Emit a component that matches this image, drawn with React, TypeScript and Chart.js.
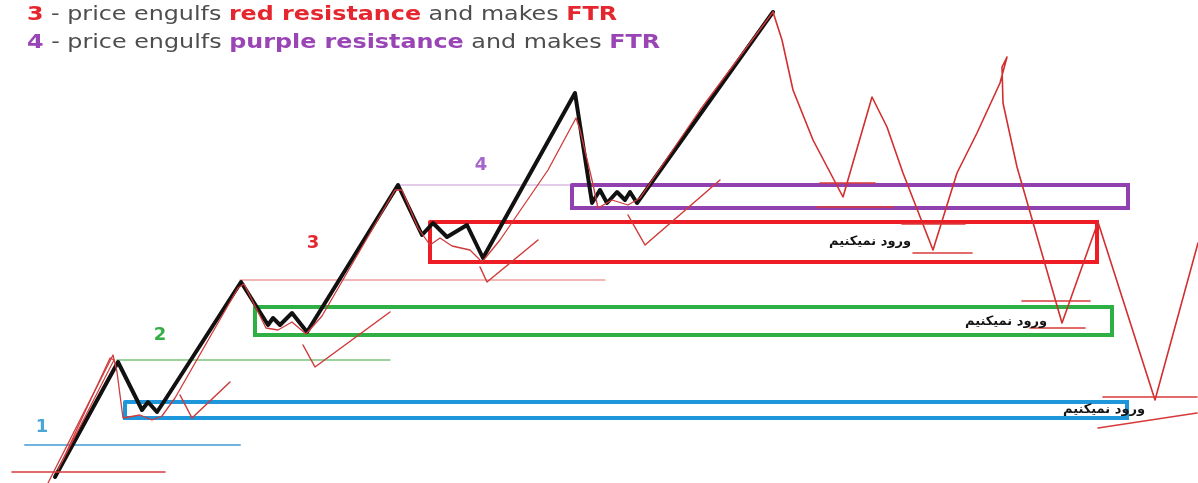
import React, { useEffect, useRef } from "react";
import { Chart, registerables } from "chart.js";

Chart.register(...registerables);

type P = [number, number];

// Horizontal axis: time units (0..1198). Vertical axis: depth below top (0..483, reversed).
const blackPath: P[] = [
  [55, 477], [118, 362], [137, 400], [142, 410], [148, 402], [157, 412], [165, 400],
  [241, 282], [263, 317], [268, 325], [273, 318], [280, 325], [292, 313], [307, 332],
  [398, 185], [422, 235], [433, 223], [447, 237], [467, 225], [483, 258],
  [575, 93], [592, 203], [600, 190], [607, 203], [617, 192], [625, 200], [630, 192], [637, 203],
  [773, 12],
];

const redTrace: P[] = [
  [48, 483], [113, 355], [117, 372], [123, 418], [140, 415], [152, 420], [162, 416],
  [175, 398], [238, 288], [244, 284], [258, 312], [266, 328], [278, 330], [292, 322], [306, 334],
  [322, 316], [395, 190], [402, 190], [418, 228], [430, 245], [440, 238], [452, 246], [470, 250], [482, 262],
  [500, 240], [548, 170], [576, 118], [580, 130], [592, 180], [598, 208], [612, 200], [628, 205], [640, 198],
  [700, 110], [773, 12],
];

const redContinuation: P[] = [
  [773, 12], [782, 40], [793, 90], [813, 140], [843, 197], [872, 97], [887, 127], [903, 173],
  [933, 250], [957, 173], [977, 133], [1000, 83], [1007, 57], [1002, 67], [1003, 103], [1017, 167],
  [1062, 323], [1098, 222], [1155, 400], [1198, 243],
];

const redSecondTrace: P[] = [
  [58, 470], [110, 358], [114, 360], [62, 462],
];

const checkMarks: P[][] = [
  [[180, 395], [192, 418], [230, 382]],
  [[303, 345], [315, 367], [390, 312]],
  [[480, 267], [487, 282], [538, 240]],
  [[628, 215], [645, 245], [720, 180]],
];

const redLevels: P[][] = [
  [[12, 472], [165, 472]],
  [[820, 183], [875, 183]],
  [[817, 207], [893, 207]],
  [[902, 224], [965, 224]],
  [[913, 253], [972, 253]],
  [[1022, 301], [1090, 301]],
  [[1030, 328], [1085, 328]],
  [[1103, 397], [1197, 397]],
  [[1098, 428], [1197, 413]],
];

const blueLevel: P[] = [[25, 445], [240, 445]];
const greenLevel: P[] = [[117, 360], [390, 360]];
const redLevel: P[] = [[240, 280], [605, 280]];
const purpleLevel: P[] = [[398, 185], [575, 185]];

// Zones: [left, right, top, bottom]
const blueZone = [125, 1127, 402, 418];
const greenZone = [255, 1112, 307, 335];
const redZone = [430, 1097, 222, 262];
const purpleZone = [572, 1128, 185, 208];

const stepLabels = ["1", "2", "3", "4"];
const stepAnchors: P[] = [[42, 427], [160, 335], [313, 243], [481, 165]];
const noEntryText = "ورود نمیکنیم";
const noEntryAnchors: P[] = [[870, 242], [1006, 322], [1104, 410]];

const RED = "#e5262e";
const GRAY = "#4d4d4d";
const PURPLE = "#9a45b6";

const titleLines = [
  [
    { t: "3", c: RED, b: true },
    { t: " - price engulfs ", c: GRAY, b: false },
    { t: "red resistance", c: RED, b: true },
    { t: " and makes ", c: GRAY, b: false },
    { t: "FTR", c: RED, b: true },
  ],
  [
    { t: "4", c: PURPLE, b: true },
    { t: " - price engulfs ", c: GRAY, b: false },
    { t: "purple resistance", c: PURPLE, b: true },
    { t: " and makes ", c: GRAY, b: false },
    { t: "FTR", c: PURPLE, b: true },
  ],
];
const titleWidths = [590, 633];
const titleBaselines = [20, 48];

const xy = (pts: P[]) => pts.map(([x, y]) => ({ x, y }));
const zone = (z: number[]) => xy([[z[0], z[2]], [z[1], z[2]], [z[1], z[3]], [z[0], z[3]], [z[0], z[2]]]);

const line = (pts: P[], color: string, width: number, order: number, join: string = "round") => ({
  data: xy(pts),
  borderColor: color,
  borderWidth: width,
  pointRadius: 0,
  tension: 0,
  fill: false,
  borderJoinStyle: join,
  borderCapStyle: "round",
  order,
});

const textPlugin = {
  id: "annotTexts",
  afterDatasetsDraw(chart: any) {
    const { ctx, scales } = chart;
    const sx = scales.x;
    const sy = scales.y;
    ctx.save();
    // title
    titleLines.forEach((segs, i) => {
      let total = 0;
      segs.forEach((s) => {
        ctx.font = `${s.b ? "bold " : ""}19px "DejaVu Sans"`;
        total += ctx.measureText(s.t).width;
      });
      const k = titleWidths[i] / total;
      ctx.save();
      ctx.translate(27, titleBaselines[i]);
      ctx.scale(k, 1);
      let cx = 0;
      ctx.textBaseline = "alphabetic";
      ctx.textAlign = "left";
      segs.forEach((s) => {
        ctx.font = `${s.b ? "bold " : ""}19px "DejaVu Sans"`;
        ctx.fillStyle = s.c;
        ctx.fillText(s.t, cx, 0);
        cx += ctx.measureText(s.t).width;
      });
      ctx.restore();
    });
    // step numbers
    const stepColors = ["#4aa6d8", "#35ad45", "#e5262e", "#a565c9"];
    stepLabels.forEach((l, i) => {
      ctx.font = 'bold 18px "DejaVu Sans"';
      ctx.fillStyle = stepColors[i];
      ctx.textAlign = "center";
      ctx.textBaseline = "middle";
      ctx.fillText(l, sx.getPixelForValue(stepAnchors[i][0]), sy.getPixelForValue(stepAnchors[i][1]));
    });
    // persian labels
    noEntryAnchors.forEach(([ax, ay]) => {
      ctx.font = 'bold 13px "DejaVu Sans"';
      ctx.fillStyle = "#151515";
      ctx.textAlign = "center";
      ctx.textBaseline = "middle";
      ctx.direction = "rtl";
      ctx.fillText(noEntryText, sx.getPixelForValue(ax), sy.getPixelForValue(ay));
    });
    ctx.restore();
  },
};

export default function App() {
  const ref = useRef<HTMLCanvasElement>(null);
  useEffect(() => {
    if (!ref.current) return;
    const datasets: any[] = [
      line(blueLevel, "#6fb3df", 2, 20),
      line(greenLevel, "#7cc47c", 1.5, 20),
      line(redLevel, "#e47070", 1.2, 20),
      line(purpleLevel, "#c79ad6", 1.2, 20),
      { ...line([], "#1e96dc", 4, 15, "miter"), data: zone(blueZone) },
      { ...line([], "#2fb045", 4, 15, "miter"), data: zone(greenZone) },
      { ...line([], "#ee1c24", 4, 15, "miter"), data: zone(redZone) },
      { ...line([], "#9140b0", 4, 15, "miter"), data: zone(purpleZone) },
      line(blackPath, "#111111", 4, 10),
      line(redTrace, "#d03a3a", 1.3, 5),
      line(redSecondTrace, "#d03a3a", 1.2, 5),
      line(redContinuation, "#d22f2f", 1.6, 5),
      ...checkMarks.map((c) => line(c, "#d03a3a", 1.5, 5)),
      ...redLevels.map((c) => line(c, "#d83a3a", 1.6, 4)),
    ];
    const chart = new Chart(ref.current, {
      type: "line",
      data: { datasets },
      options: {
        animation: false,
        responsive: true,
        maintainAspectRatio: false,
        parsing: false as any,
        layout: { padding: 0 },
        plugins: { legend: { display: false }, tooltip: { enabled: false }, title: { display: false } },
        scales: {
          x: { type: "linear", min: 0, max: 1198, display: false },
          y: { type: "linear", min: 0, max: 483, reverse: true, display: false },
        },
      },
      plugins: [textPlugin],
    });
    return () => chart.destroy();
  }, []);
  return (
    <div style={{ position: "absolute", left: 0, top: 0, width: 1198, height: 483, background: "#ffffff" }}>
      <canvas ref={ref} />
    </div>
  );
}
